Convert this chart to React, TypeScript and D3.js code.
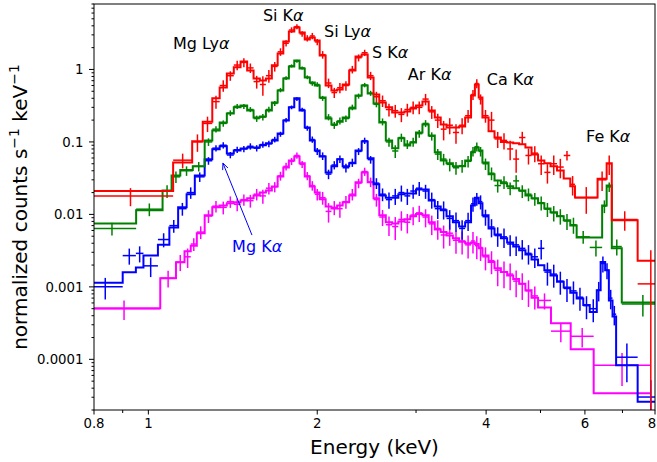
import React, { useEffect, useRef } from 'react';
import * as d3 from 'd3';

// fine binning shared by the four spectra in the line-rich band (keV)
const denseEdges = [
  1.26, 1.30, 1.34, 1.38, 1.42, 1.46, 1.50, 1.54, 1.58, 1.62, 1.66, 1.70, 1.74, 1.78, 1.82, 1.86,
  1.90, 1.94, 1.98, 2.02, 2.07, 2.12, 2.17, 2.22, 2.28, 2.34, 2.40, 2.46, 2.52, 2.58, 2.65, 2.72,
  2.79, 2.86, 2.93, 3.00, 3.08, 3.16, 3.24, 3.32, 3.40, 3.49, 3.58, 3.67, 3.76, 3.82, 3.88, 3.94,
  4.04, 4.14, 4.25, 4.36, 4.47, 4.58, 4.70, 4.82, 4.95, 5.08, 5.21, 5.35, 5.50, 5.65, 5.80,
];
const span = (lo: number, hi: number) => denseEdges.filter((e) => e >= lo - 1e-6 && e <= hi + 1e-6);

// red
const redEdges = [0.78, 1.107, 1.197, 1.25, ...span(1.30, 5.65), 5.76, 6.32, 6.56, 6.70, 7.45, 8.3];
const redModel = [
  0.021, 0.052, 0.102, 0.19,
  0.40, 0.565, 0.88, 1.07, 1.29, 0.97, 0.75, 0.705, 0.75, 1.14,
  1.66, 2.43, 3.34, 3.8, 3.24, 2.59, 2.76, 2.51, 1.56, 0.60,
  0.513, 0.53, 0.62, 0.97, 1.51, 1.61, 0.776, 0.45, 0.35, 0.30,
  0.255, 0.255, 0.263, 0.29, 0.319, 0.362, 0.272, 0.218, 0.174, 0.158,
  0.158, 0.163, 0.218, 0.438, 0.62, 0.41, 0.218, 0.14, 0.115, 0.10,
  0.098, 0.096, 0.093, 0.084, 0.067, 0.0556, 0.0507, 0.046, 0.0404, 0.0314,
  0.0244, 0.0171, 0.031, 0.0507, 0.0083, 0.0023,
];
const redData = [
  0.018, 0.056, 0.10, 0.18,
  0.36, 0.6, 0.82, 1.15, 1.25, 1.05, 0.68, 0.62, 0.82, 1.1,
  1.75, 2.3, 3.5, 3.9, 3.1, 2.7, 2.9, 2.4, 1.6, 0.65,
  0.48, 0.56, 0.6, 1.0, 1.45, 1.7, 0.82, 0.42, 0.37, 0.28,
  0.27, 0.24, 0.28, 0.3, 0.3, 0.39, 0.26, 0.2, 0.15, 0.17,
  0.135, 0.17, 0.23, 0.45, 0.64, 0.39, 0.23, 0.2, 0.11, 0.105,
  0.08, 0.058, 0.115, 0.065, 0.07, 0.05, 0.038, 0.05, 0.045, 0.065,
  0.026, 0.017, 0.03, 0.05, 0.0085, 0.0011,
];
const redErr = [
  0.28, 0.23, 0.27, 0.24,
  0.2, 0.18, 0.15, 0.15, 0.14, 0.15, 0.2, 0.3, 0.2, 0.15,
  0.12, 0.1, 0.09, 0.08, 0.09, 0.1, 0.1, 0.1, 0.12, 0.15,
  0.16, 0.16, 0.15, 0.12, 0.11, 0.1, 0.13, 0.17, 0.18, 0.2,
  0.2, 0.22, 0.2, 0.2, 0.2, 0.18, 0.2, 0.22, 0.3, 0.25,
  0.3, 0.25, 0.2, 0.16, 0.14, 0.16, 0.2, 0.3, 0.25, 0.25,
  0.3, 0.35, 0.2, 0.25, 0.25, 0.3, 0.3, 0.3, 0.3, 0.15,
  0.3, 0.4, 0.3, 0.3, 0.3, 1.9,
];

// green
const greenEdges = [0.78, 0.951, 1.06, 1.10, 1.14, 1.20, ...span(1.26, 5.80), 6.12, 6.44, 6.56, 6.70, 6.98, 8.3];
const greenModel = [
  0.0075, 0.0114, 0.0214, 0.0345, 0.041, 0.046,
  0.105, 0.144, 0.186, 0.247, 0.30, 0.319, 0.272, 0.218, 0.225, 0.272,
  0.35, 0.513, 0.75, 1.1, 1.33, 1.03, 0.776, 0.66, 0.6, 0.41,
  0.21, 0.174, 0.19, 0.218, 0.29, 0.438, 0.6, 0.466, 0.34, 0.186,
  0.105, 0.0815, 0.112, 0.0895, 0.098, 0.135, 0.174, 0.123, 0.072, 0.0556,
  0.0507, 0.046, 0.046, 0.0556, 0.072, 0.084, 0.076, 0.052, 0.0357, 0.0294,
  0.027, 0.0244, 0.0229, 0.0214, 0.0183, 0.0167, 0.0142, 0.0121, 0.0107, 0.0094,
  0.0083, 0.00705,
  0.0048, 0.0048, 0.0133, 0.025, 0.0034, 0.00061,
];
const greenData = [
  0.0064, 0.0118, 0.021, 0.033, 0.040, 0.046,
  0.10, 0.15, 0.18, 0.25, 0.31, 0.31, 0.28, 0.21, 0.22, 0.28,
  0.34, 0.52, 0.76, 1.12, 1.3, 1.05, 0.78, 0.64, 0.62, 0.40,
  0.22, 0.17, 0.195, 0.21, 0.30, 0.43, 0.61, 0.47, 0.33, 0.19,
  0.10, 0.075, 0.115, 0.093, 0.10, 0.13, 0.18, 0.12, 0.068, 0.058,
  0.049, 0.044, 0.047, 0.054, 0.074, 0.086, 0.074, 0.05, 0.037, 0.025,
  0.028, 0.023, 0.029, 0.021, 0.019, 0.0165, 0.0145, 0.0118, 0.0105, 0.0095,
  0.0081, 0.0072,
  0.0049, 0.0035, 0.013, 0.024, 0.0036, 0.00058,
];
const greenErr = [
  0.2, 0.2, 0.2, 0.18, 0.15, 0.15,
  0.12, 0.1, 0.1, 0.09, 0.08, 0.08, 0.08, 0.1, 0.1, 0.09,
  0.08, 0.07, 0.06, 0.05, 0.05, 0.05, 0.06, 0.07, 0.07, 0.08,
  0.1, 0.11, 0.11, 0.1, 0.09, 0.08, 0.07, 0.08, 0.09, 0.11,
  0.14, 0.2, 0.13, 0.14, 0.14, 0.12, 0.11, 0.13, 0.17, 0.18,
  0.2, 0.2, 0.2, 0.18, 0.15, 0.14, 0.15, 0.18, 0.2, 0.2,
  0.2, 0.2, 0.2, 0.2, 0.2, 0.2, 0.22, 0.22, 0.24, 0.24,
  0.25, 0.25,
  0.2, 0.25, 0.2, 0.15, 0.25, 0.33,
];

// blue
const blueEdges = [
  0.78, 0.90, 0.95, 0.98, 1.04, 1.09, 1.13, 1.17, 1.21, ...span(1.26, 5.80),
  5.96, 6.12, 6.30, 6.40, 6.52, 6.62, 6.72, 6.82, 7.45, 8.3,
];
const blueModel = [
  0.00114, 0.00159, 0.00185, 0.0027, 0.0038, 0.0066, 0.0125, 0.0189, 0.0345,
  0.0575, 0.079, 0.087, 0.0695, 0.0763, 0.081, 0.084, 0.084, 0.09, 0.096,
  0.105, 0.131, 0.198, 0.30, 0.40, 0.272, 0.158, 0.105, 0.0763, 0.063,
  0.038, 0.046, 0.0575, 0.046, 0.0507, 0.0763, 0.101, 0.0595, 0.026, 0.0183,
  0.017, 0.017, 0.0189, 0.0195, 0.0195, 0.022, 0.022, 0.0156, 0.0129, 0.0114,
  0.0094, 0.0078, 0.0068, 0.0078, 0.0133, 0.017, 0.0142, 0.0097, 0.0064, 0.0053,
  0.0047, 0.0041, 0.0036, 0.0032, 0.0028, 0.00239, 0.00198, 0.00169, 0.00144, 0.00118,
  0.00098, 0.00083,
  0.00069, 0.00056, 0.00045, 0.0009, 0.0022, 0.00169, 0.00065, 0.00039, 0.0000826, 0.000026,
];
const blueData = [
  0.001, 0.0027, 0.0029, 0.00195, 0.0045, 0.007, 0.012, 0.02, 0.033,
  0.055, 0.082, 0.09, 0.066, 0.078, 0.08, 0.087, 0.082, 0.092, 0.094,
  0.108, 0.128, 0.2, 0.30, 0.39, 0.28, 0.155, 0.108, 0.074, 0.064,
  0.036, 0.048, 0.058, 0.044, 0.052, 0.074, 0.104, 0.057, 0.027, 0.019,
  0.016, 0.018, 0.02, 0.018, 0.021, 0.023, 0.021, 0.016, 0.012, 0.0118,
  0.0088, 0.0082, 0.0064, 0.0082, 0.014, 0.0165, 0.015, 0.0093, 0.0067, 0.0051,
  0.0049, 0.0039, 0.0038, 0.0034, 0.0029, 0.0026, 0.0034, 0.0016, 0.0015, 0.0012,
  0.00095, 0.00088,
  0.00072, 0.00055, 0.0005, 0.0009, 0.0021, 0.0017, 0.0007, 0.00042, 0.000107, 0.0000302,
];
const blueErr = [
  0.33, 0.25, 0.25, 0.3, 0.22, 0.2, 0.2, 0.18, 0.15,
  0.12, 0.1, 0.1, 0.1, 0.1, 0.1, 0.1, 0.1, 0.1, 0.1,
  0.09, 0.08, 0.07, 0.06, 0.06, 0.06, 0.08, 0.1, 0.11, 0.12,
  0.15, 0.13, 0.12, 0.14, 0.13, 0.11, 0.1, 0.12, 0.17, 0.2,
  0.25, 0.25, 0.25, 0.25, 0.22, 0.22, 0.22, 0.25, 0.28, 0.28,
  0.3, 0.3, 0.3, 0.28, 0.22, 0.2, 0.22, 0.25, 0.28, 0.3,
  0.3, 0.32, 0.3, 0.3, 0.3, 0.3, 0.3, 0.35, 0.35, 0.35,
  0.35, 0.35,
  0.35, 0.35, 0.35, 0.3, 0.25, 0.25, 0.3, 0.3, 0.55, 0.7,
];

// magenta
const magentaEdges = [0.78, 1.05, 1.12, 1.16, 1.19, 1.22, ...span(1.26, 4.95), 5.22, 5.66, 6.22, 7.85];
const magentaModel = [
  0.000505, 0.00132, 0.00219, 0.0031, 0.0037, 0.0055,
  0.0097, 0.0125, 0.0133, 0.0142, 0.0147, 0.0156, 0.0167, 0.0183, 0.0201, 0.0214,
  0.0243, 0.0334, 0.0445, 0.0556, 0.063, 0.0507, 0.0334, 0.0243, 0.0201, 0.0162,
  0.0129, 0.0121, 0.0133, 0.0147, 0.0183, 0.0277, 0.0378, 0.0277, 0.0167, 0.0097,
  0.0078, 0.0075, 0.008, 0.0086, 0.0094, 0.0101, 0.0097, 0.0078, 0.0062, 0.0057,
  0.0051, 0.0047, 0.0042, 0.004, 0.0041, 0.0039, 0.0034, 0.0027, 0.0022, 0.0018,
  0.0016, 0.00144, 0.00128, 0.0011, 0.0009, 0.00071,
  0.00052, 0.000315, 0.000138, 0.000034,
];
const magentaData = [
  0.0005, 0.00132, 0.0022, 0.0026, 0.0039, 0.0057,
  0.0095, 0.013, 0.0125, 0.015, 0.0138, 0.016, 0.0155, 0.019, 0.018, 0.023,
  0.024, 0.034, 0.046, 0.054, 0.065, 0.049, 0.034, 0.025, 0.019, 0.017,
  0.011, 0.0125, 0.012, 0.015, 0.019, 0.027, 0.039, 0.028, 0.016, 0.0092,
  0.0072, 0.0068, 0.0085, 0.0078, 0.0098, 0.0105, 0.0092, 0.0074, 0.0064, 0.0052,
  0.0055, 0.0044, 0.0043, 0.0038, 0.0043, 0.0037, 0.0035, 0.0026, 0.0023, 0.0017,
  0.0016, 0.0015, 0.0012, 0.0011, 0.00088, 0.00075,
  0.00065, 0.000245, 0.000208, 0.0000826,
];
const magentaErr = [
  0.3, 0.26, 0.25, 0.3, 0.2, 0.2,
  0.2, 0.18, 0.2, 0.18, 0.2, 0.18, 0.2, 0.18, 0.22, 0.18,
  0.16, 0.14, 0.12, 0.11, 0.1, 0.11, 0.13, 0.15, 0.18, 0.2,
  0.3, 0.22, 0.25, 0.2, 0.18, 0.15, 0.13, 0.15, 0.2, 0.25,
  0.3, 0.35, 0.3, 0.3, 0.28, 0.25, 0.28, 0.3, 0.3, 0.35,
  0.33, 0.35, 0.35, 0.35, 0.33, 0.35, 0.35, 0.35, 0.35, 0.4,
  0.4, 0.4, 0.4, 0.4, 0.4, 0.35,
  0.25, 0.3, 0.3, 0.48,
];

// line identifications (text drawn with an italic alpha after it)
const lineNames = ['Mg Ly', 'Si K', 'Si Ly', 'S K', 'Ar K', 'Ca K', 'Fe K'];
const lineEnergy = [1.106, 1.60, 2.056, 2.504, 2.90, 4.01, 6.03];
const lineLevel = [1.9, 4.64, 2.79, 1.43, 0.712, 0.607, 0.0994];

// Mg Ka callout on the blue spectrum: text anchor, arrow tail, arrow head
const mgText = [1.41, 0.00302];
const mgArrowFrom = [1.53, 0.00518];
const mgArrowTo = [1.358, 0.051];

const xTicks = [0.8, 1, 2, 4, 6, 8];
const xTickLabels = ['0.8', '1', '2', '4', '6', '8'];
const xMinorTicks = [0.9, 3, 5, 7];
const yTicks = [1, 0.1, 0.01, 0.001, 0.0001];
const yTickLabels = ['1', '0.1', '0.01', '0.001', '0.0001'];

interface Spectrum {
  color: string;
  edges: number[];
  model: number[];
  data: number[];
  err: number[];
}

// drawn bottom first, red ends up on top
const spectra: Spectrum[] = [
  { color: '#ff00ff', edges: magentaEdges, model: magentaModel, data: magentaData, err: magentaErr },
  { color: '#0000ff', edges: blueEdges, model: blueModel, data: blueData, err: blueErr },
  { color: '#008000', edges: greenEdges, model: greenModel, data: greenData, err: greenErr },
  { color: '#ff0000', edges: redEdges, model: redModel, data: redData, err: redErr },
];

const WIDTH = 657;
const HEIGHT = 462;
const PLOT = { left: 94, right: 655, top: 4, bottom: 410 };
const FONT = "'DejaVu Sans', sans-serif";

const XraySpectrum: React.FC = () => {
  const svgRef = useRef<SVGSVGElement>(null);

  useEffect(() => {
    if (!svgRef.current) return;
    const svg = d3.select(svgRef.current);
    svg.selectAll('*').remove();

    const x = d3.scaleLog().domain([0.8, 8]).range([PLOT.left, PLOT.right]);
    const y = d3.scaleLog().domain([2e-5, 8]).range([PLOT.bottom, PLOT.top]);

    svg.append('defs').append('clipPath').attr('id', 'plot-area')
      .append('rect')
      .attr('x', PLOT.left).attr('y', PLOT.top)
      .attr('width', PLOT.right - PLOT.left).attr('height', PLOT.bottom - PLOT.top);

    const plot = svg.append('g').attr('clip-path', 'url(#plot-area)');

    const step = d3.line<[number, number]>()
      .x((d) => x(d[0]))
      .y((d) => y(d[1]))
      .curve(d3.curveStepAfter);

    spectra.forEach((s) => {
      const n = Math.min(s.edges.length - 1, s.model.length, s.data.length, s.err.length);
      const bins = d3.range(n).map((i) => ({
        lo: s.edges[i],
        hi: s.edges[i + 1],
        mid: Math.sqrt(s.edges[i] * s.edges[i + 1]),
        value: s.data[i],
        down: s.data[i] * (1 - s.err[i]),
        up: s.data[i] * (1 + s.err[i]),
      }));
      const g = plot.append('g').attr('stroke', s.color).attr('fill', 'none');

      // data: bin width and 1-sigma bar
      g.selectAll('line.xerr').data(bins).join('line')
        .attr('class', 'xerr')
        .attr('x1', (d) => x(d.lo)).attr('x2', (d) => x(d.hi))
        .attr('y1', (d) => y(d.value)).attr('y2', (d) => y(d.value))
        .attr('stroke-width', 1.5);
      g.selectAll('line.yerr').data(bins).join('line')
        .attr('class', 'yerr')
        .attr('x1', (d) => x(d.mid)).attr('x2', (d) => x(d.mid))
        .attr('y1', (d) => (d.down > 0 ? y(d.down) : PLOT.bottom + 10))
        .attr('y2', (d) => y(d.up))
        .attr('stroke-width', 1.5);

      // folded model as a histogram
      const pts: [number, number][] = d3.range(n).map((i) => [s.edges[i], s.model[i]]);
      pts.push([s.edges[n], s.model[n - 1]]);
      g.append('path').attr('d', step(pts) || '').attr('stroke-width', 2);
    });

    // line labels
    lineNames.forEach((name, i) => {
      const t = svg.append('text')
        .attr('x', x(lineEnergy[i])).attr('y', y(lineLevel[i]))
        .attr('font-family', FONT).attr('font-size', 16).attr('fill', '#000')
        .text(name);
      t.append('tspan').attr('font-style', 'italic').text('α');
    });

    // Mg Ka callout
    const mg = svg.append('text')
      .attr('x', x(mgText[0])).attr('y', y(mgText[1]))
      .attr('font-family', FONT).attr('font-size', 16).attr('fill', '#0000ff')
      .text('Mg K');
    mg.append('tspan').attr('font-style', 'italic').text('α');

    const ax0 = x(mgArrowFrom[0]), ay0 = y(mgArrowFrom[1]);
    const ax1 = x(mgArrowTo[0]), ay1 = y(mgArrowTo[1]);
    const ang = Math.atan2(ay0 - ay1, ax0 - ax1);
    const head = 7;
    const spread = 0.42;
    svg.append('path')
      .attr('d', `M${ax0},${ay0}L${ax1},${ay1}`
        + `M${ax1 + head * Math.cos(ang - spread)},${ay1 + head * Math.sin(ang - spread)}`
        + `L${ax1},${ay1}`
        + `L${ax1 + head * Math.cos(ang + spread)},${ay1 + head * Math.sin(ang + spread)}`)
      .attr('fill', 'none').attr('stroke', '#0000ff').attr('stroke-width', 1);

    // frame
    svg.append('rect')
      .attr('x', PLOT.left).attr('y', PLOT.top)
      .attr('width', PLOT.right - PLOT.left).attr('height', PLOT.bottom - PLOT.top)
      .attr('fill', 'none').attr('stroke', '#000').attr('stroke-width', 1);

    const axes = svg.append('g').attr('stroke', '#000').attr('stroke-width', 1);

    // x ticks
    xTicks.forEach((t) => {
      axes.append('line').attr('x1', x(t)).attr('x2', x(t))
        .attr('y1', PLOT.bottom).attr('y2', PLOT.bottom + 4.5);
    });
    xMinorTicks.forEach((t) => {
      axes.append('line').attr('x1', x(t)).attr('x2', x(t))
        .attr('y1', PLOT.bottom).attr('y2', PLOT.bottom + 3);
    });
    // the last label sits on the page edge; keep it fully inside
    svg.append('g').selectAll('text').data(xTicks).join('text')
      .attr('x', (d) => Math.min(x(d), WIDTH - 5)).attr('y', PLOT.bottom + 18)
      .attr('text-anchor', 'middle')
      .attr('font-family', FONT).attr('font-size', 13.3).attr('fill', '#000')
      .text((d, i) => xTickLabels[i]);

    // y ticks
    y.ticks().forEach((t) => {
      const lg = Math.log10(t);
      const isMajor = Math.abs(lg - Math.round(lg)) < 1e-6;
      axes.append('line').attr('x1', PLOT.left).attr('x2', PLOT.left - (isMajor ? 5 : 2.5))
        .attr('y1', y(t)).attr('y2', y(t));
    });
    svg.append('g').selectAll('text').data(yTicks).join('text')
      .attr('x', PLOT.left - 10.5).attr('y', (d) => y(d))
      .attr('dy', '0.36em')
      .attr('text-anchor', 'end')
      .attr('font-family', FONT).attr('font-size', 13.3).attr('fill', '#000')
      .text((d, i) => yTickLabels[i]);

    // axis titles
    svg.append('text')
      .attr('x', (PLOT.left + PLOT.right) / 2).attr('y', 453.5)
      .attr('text-anchor', 'middle')
      .attr('font-family', FONT).attr('font-size', 20).attr('fill', '#000')
      .text('Energy (keV)');

    const yl = svg.append('text')
      .attr('transform', `translate(27,${(PLOT.top + PLOT.bottom) / 2}) rotate(-90)`)
      .attr('text-anchor', 'middle')
      .attr('font-family', FONT).attr('font-size', 20).attr('fill', '#000');
    yl.append('tspan').text('normalized counts s');
    yl.append('tspan').attr('dy', -8).attr('font-size', 14).text('−1');
    yl.append('tspan').attr('dy', 8).text(' keV');
    yl.append('tspan').attr('dy', -8).attr('font-size', 14).text('−1');
  }, []);

  return (
    <svg
      ref={svgRef}
      width={WIDTH}
      height={HEIGHT}
      style={{ position: 'absolute', left: 0, top: 0, background: '#fff' }}
    />
  );
};

export default function App() {
  return <XraySpectrum />;
}
